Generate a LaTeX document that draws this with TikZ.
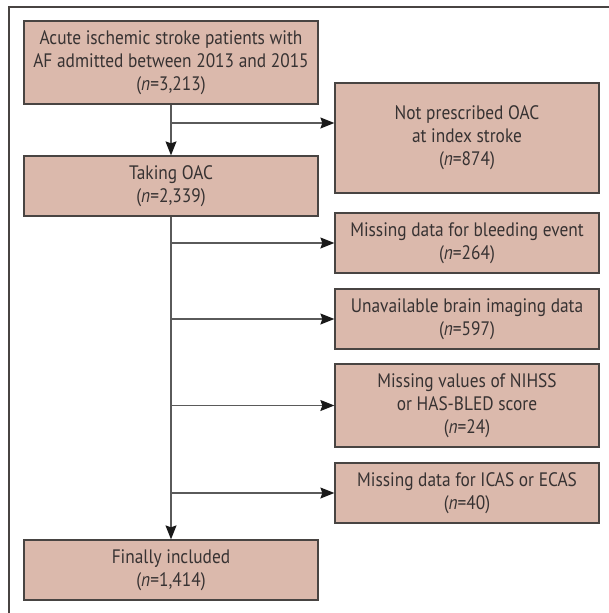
\documentclass[tikz,border=0pt]{standalone}
\usepackage{fontspec}
\setmainfont[FakeStretch=0.89]{PT Sans}
\usetikzlibrary{arrows.meta}
\definecolor{boxfill}{RGB}{219,185,172}
\definecolor{boxline}{RGB}{72,68,66}
\definecolor{conline}{RGB}{90,90,90}
\definecolor{txt}{RGB}{55,50,50}
\begin{document}
\begin{tikzpicture}[x=1pt,y=-1pt,
  stagebox/.style={draw=boxline,line width=1.3pt,fill=boxfill,inner sep=0pt,
    align=center,text=txt,font=\fontsize{19.5}{23}\selectfont},
  conn/.style={draw=conline,line width=1.1pt},
  arr/.style={conn,-{Stealth[length=14pt,width=11pt,inset=2pt,fill=black!90,color=black!90]}}]
\useasboundingbox (0,0) rectangle (609,613);
\draw[color=boxline,line width=1.1pt] (9,613) -- (9,7) -- (609,7);

\node[stagebox,minimum width=294pt,minimum height=83pt] (b1) at (171,62.5)
  {Acute ischemic stroke patients with\\AF admitted between 2013 and 2015\\(\textit{n}=3,213)};
\node[stagebox,minimum width=264pt,minimum height=110pt] (np) at (467,138)
  {Not prescribed OAC\\at index stroke\\(\textit{n}=874)};
\node[stagebox,minimum width=294pt,minimum height=60pt] (tk) at (171,186)
  {Taking OAC\\(\textit{n}=2,339)};
\node[stagebox,minimum width=264pt,minimum height=60pt] (bl) at (467,243)
  {Missing data for bleeding event\\(\textit{n}=264)};
\node[stagebox,minimum width=264pt,minimum height=60pt] (br) at (467,319)
  {Unavailable brain imaging data\\(\textit{n}=597)};
\node[stagebox,minimum width=264pt,minimum height=83pt] (ni) at (467,405.5)
  {Missing values of NIHSS\\or HAS-BLED score\\(\textit{n}=24)};
\node[stagebox,minimum width=264pt,minimum height=60pt] (ic) at (467,493)
  {Missing data for ICAS or ECAS\\(\textit{n}=40)};
\node[stagebox,minimum width=294pt,minimum height=60pt] (fi) at (171,570)
  {Finally included\\(\textit{n}=1,414)};

\coordinate (j1) at (171,123);
\draw[arr] (b1.south) -- (tk.north);
\draw[arr] (j1) -- (j1 -| np.west);
\draw[arr] (tk.south) -- (fi.north);
\draw[arr] (bl.west -| tk.south) -- (bl.west);
\draw[arr] (br.west -| tk.south) -- (br.west);
\draw[arr] (ni.west -| tk.south) -- (ni.west);
\draw[arr] (ic.west -| tk.south) -- (ic.west);
\end{tikzpicture}
\end{document}
